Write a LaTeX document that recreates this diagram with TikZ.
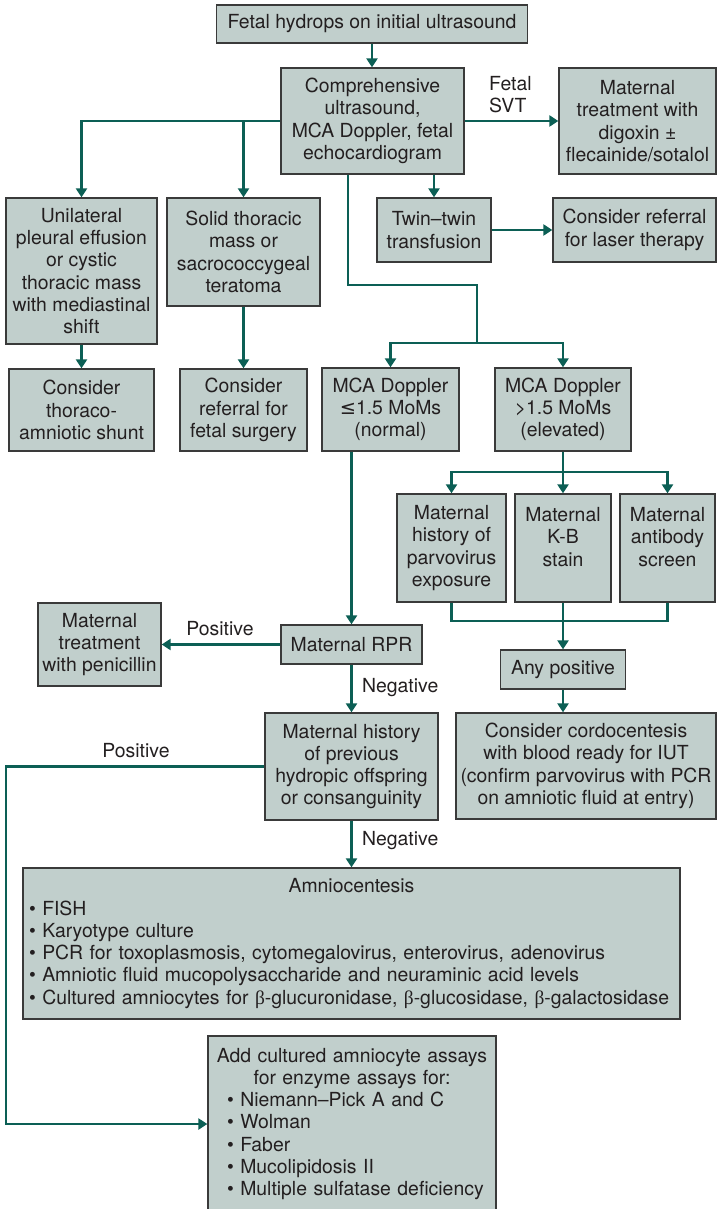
\documentclass[tikz,border=0pt]{standalone}
\usepackage{fontspec}
\setmainfont{TeX Gyre Heros}
\newfontfamily\symfont{DejaVu Sans}
\newfontfamily\greekfont{Liberation Serif}
\usetikzlibrary{arrows.meta}

\definecolor{boxfill}{HTML}{C1CFCC}
\definecolor{flow}{HTML}{0C5F55}
\definecolor{edge}{HTML}{3A3A3A}
\definecolor{ink}{HTML}{231F20}

\newcommand{\fs}{\fontsize{19.4}{22.3}\selectfont}
\newcommand{\blt}{\textbullet\ }
\newcommand{\bt}{{\greekfont β}}

\tikzset{
  box/.style={draw=edge, line width=1.3pt, fill=boxfill, inner sep=0pt,
              align=center, text=ink, font=\fs},
  flowline/.style={draw=flow, line width=2.8pt},
  arr/.style={flowline, -{Triangle[width=11pt,length=9pt]}},
  lbl/.style={text=ink, font=\fs, inner sep=0pt},
}

\begin{document}
\begin{tikzpicture}[x=1pt, y=-1pt]
\useasboundingbox (0,0) rectangle (717,1209);

% ---------- boxes ----------
\node[box, minimum width=311pt, minimum height=38pt] (top) at (372,24)
  {Fetal hydrops on initial ultrasound};
\node[box, minimum width=183pt, minimum height=106pt] (comp) at (372.5,121)
  {Comprehensive\\ultrasound,\\MCA Doppler, fetal\\echocardiogram};
\node[box, minimum width=157pt, minimum height=106pt] (dig) at (637.5,121)
  {Maternal\\treatment with\\digoxin ±\\flecainide/sotalol};

\node[box, minimum width=151pt, minimum height=146pt] (unil) at (81.5,271)
  {Unilateral\\pleural effusion\\or cystic\\thoracic mass\\with mediastinal\\shift};
\node[box, minimum width=153pt, minimum height=108pt] (solid) at (243.5,252)
  {Solid thoracic\\mass or\\sacrococcygeal\\teratoma};
\node[box, minimum width=114pt, minimum height=64pt] (twin) at (434,230)
  {Twin–twin\\transfusion};
\node[box, minimum width=163pt, minimum height=64pt] (laser) at (634.5,230)
  {Consider referral\\for laser therapy};

\node[box, minimum width=145pt, minimum height=82pt] (shunt) at (81.5,410)
  {Consider\\thoraco-\\amniotic shunt};
\node[box, minimum width=127pt, minimum height=82pt] (surg) at (243.5,410)
  {Consider\\referral for\\fetal surgery};
\node[box, minimum width=137pt, minimum height=83pt] (mcan) at (390.5,409.5)
  {MCA Doppler\\{\symfont ≤}1.5 MoMs\\(normal)};
\node[box, minimum width=136pt, minimum height=83pt] (mcah) at (563,409.5)
  {MCA Doppler\\>1.5 MoMs\\(elevated)};

\node[box, minimum width=109pt, minimum height=108pt] (parvo) at (451.5,548)
  {Maternal\\history of\\parvovirus\\exposure};
\node[box, minimum width=96pt, minimum height=108pt] (kb) at (563,548)
  {Maternal\\K-B\\stain\\\mbox{}};
\node[box, minimum width=95pt, minimum height=108pt] (anti) at (667.5,548)
  {Maternal\\antibody\\screen\\\mbox{}};

\node[box, minimum width=123pt, minimum height=83pt] (penic) at (99.5,644.5)
  {Maternal\\treatment\\with penicillin};
\node[box, minimum width=141pt, minimum height=39pt] (rpr) at (351.5,644.5)
  {Maternal RPR};
\node[box, minimum width=125pt, minimum height=39pt] (anypos) at (563,669.5)
  {Any positive};

\node[box, minimum width=173pt, minimum height=107pt] (hist) at (351.5,766.5)
  {Maternal history\\of previous\\hydropic offspring\\or consanguinity};
\node[box, minimum width=260pt, minimum height=106pt] (cordo) at (586,766)
  {Consider cordocentesis\\with blood ready for IUT\\(confirm parvovirus with PCR\\on amniotic fluid at entry)};

\node[box, minimum width=657pt, minimum height=151pt, text width=645pt, align=left]
  (amnio) at (351.5,943.5)
  {\centering Amniocentesis\par\raggedright
   \blt FISH\\
   \blt Karyotype culture\\
   \blt PCR for toxoplasmosis, cytomegalovirus, enterovirus, adenovirus\\
   \blt Amniotic fluid mucopolysaccharide and neuraminic acid levels\\
   \blt Cultured amniocytes for \bt-glucuronidase, \bt-glucosidase, \bt-galactosidase\par};

\node[box, minimum width=288pt, minimum height=176pt, text width=276pt, align=left]
  (addbox) at (352,1124)
  {\centering Add cultured amniocyte assays\\for enzyme assays for:\par
   \raggedright\leftskip=13pt
   \blt Niemann–Pick A and C\\
   \blt Wolman\\
   \blt Faber\\
   \blt Mucolipidosis II\\
   \blt Multiple sulfatase deficiency\par};

% ---------- labels ----------
\node[lbl, align=left, anchor=west] (svt) at (489,94.5) {Fetal\\SVT};
\node[lbl] (posrpr) at (220,629) {Positive};
\node[lbl, anchor=west] (negrpr) at (362,688) {Negative};
\node[lbl] (poshist) at (136,751) {Positive};
\node[lbl, anchor=west] (neghist) at (362,841) {Negative};

% ---------- junction points ----------
\coordinate (bend)   at (477,285);
\coordinate (split)  at (477,343);
\coordinate (fan)    at (563,472);
\coordinate (gather) at (563,621);
\coordinate (rail)   at (6,900);

% ---------- connectors ----------
\draw[arr] (top.south) -- (top.south |- comp.north);
\draw[arr] (comp.east) -- (dig.west);
\draw[arr] (comp.west) -| (unil.north);
\draw[arr] (comp.west -| solid.north) -- (solid.north);
\draw[arr] (comp.south -| twin.north) -- (twin.north);
\draw[arr] (twin.east) -- (laser.west);

\draw[arr] (unil.south) -- (shunt.north);
\draw[arr] (solid.south) -- (surg.north);

\draw[flowline] ([xshift=-24.5pt]comp.south) |- (bend) -- (split);
\draw[arr] (split) -| (mcan.north);
\draw[arr] (split) -| (mcah.north);

\draw[flowline] (mcah.south) -- (fan);
\draw[arr] (fan) -| (parvo.north);
\draw[arr] (fan) -- (kb.north);
\draw[arr] (fan) -| (anti.north);

\draw[flowline] (parvo.south) |- (gather);
\draw[flowline] (anti.south) |- (gather);
\draw[arr] (kb.south) -- (anypos.north);
\draw[arr] (anypos.south) -- (anypos.south |- cordo.north);

\draw[arr] (mcan.south -| rpr.north) -- (rpr.north);
\draw[arr] (rpr.west) -- (penic.east);
\draw[arr] (rpr.south) -- (hist.north);
\draw[arr] (hist.south) -- (amnio.north);
\draw[arr] (hist.west) -| (rail) |- (addbox.west);

\end{tikzpicture}
\end{document}
